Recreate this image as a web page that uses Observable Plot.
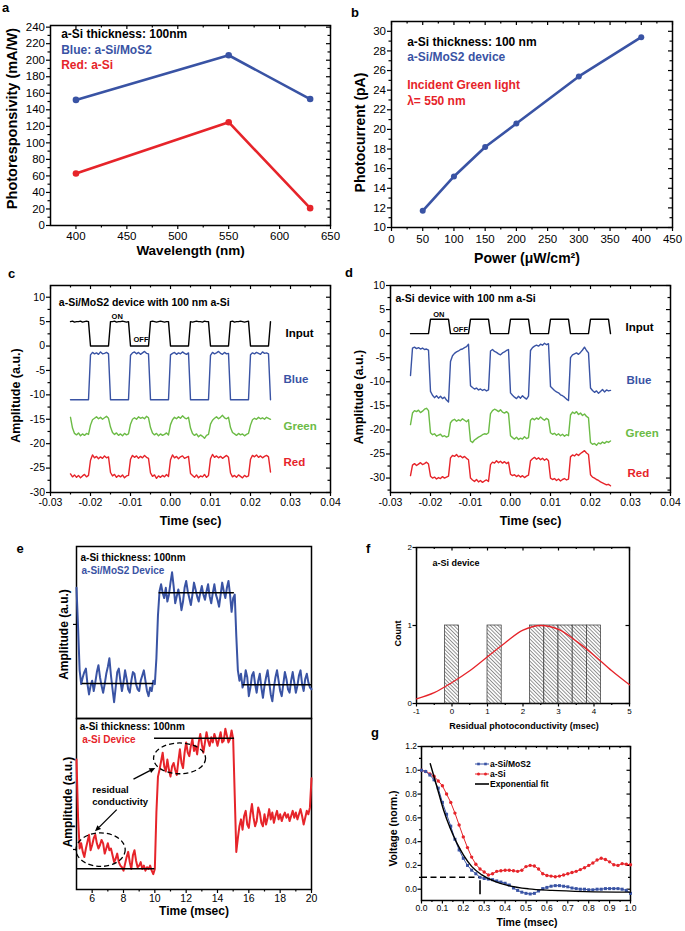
<!DOCTYPE html>
<html><head><meta charset="utf-8">
<script src="https://cdn.jsdelivr.net/npm/d3@7"></script>
<script src="https://cdn.jsdelivr.net/npm/@observablehq/plot@0.6"></script>
<style>
body{margin:0;background:#fff;font-family:"Liberation Sans",Arial,sans-serif;}
#fig{position:relative;width:685px;height:931px;overflow:hidden;background:#fff;}
.leg{position:absolute;font-weight:bold;font-size:8.5px;line-height:10px;white-space:nowrap;}
</style></head><body><div id="fig"></div>
<script>
// ---------------- DATA ----------------
// (a)
const aWavelength = [400, 550, 630];
const aBlueResp = [152, 206, 153];
const aRedResp = [63, 125, 21];
const aXMajor = [400, 450, 500, 550, 600, 650];
const aXMinor = [425, 475, 525, 575, 625];
const aYMajor = [0, 20, 40, 60, 80, 100, 120, 140, 160, 180, 200, 220, 240];
const aYMinor = [10, 30, 50, 70, 90, 110, 130, 150, 170, 190, 210, 230];
// (b)
const bPower = [50, 100, 150, 200, 300, 400];
const bCurrent = [11.7, 15.2, 18.2, 20.6, 25.4, 29.4];
const bXMajor = [0, 50, 100, 150, 200, 250, 300, 350, 400, 450];
const bXMinor = [25, 75, 125, 175, 225, 275, 325, 375, 425];
const bYMajor = [10, 12, 14, 16, 18, 20, 22, 24, 26, 28, 30];
const bYMinor = [11, 13, 15, 17, 19, 21, 23, 25, 27, 29];
// (c),(d) traces sampled every 0.5 ms from -0.025 s
const cdT0 = -0.025, cdStep = 0.0005;
const cInput = [5,5.1,4.9,5,5,5.1,4.9,5,5.1,5, 0,0,0,0,0,0,0,0,0,0,
 5,5,5.1,4.9,5,5,5.1,5,4.9,5, 0,0,0,0,0,0,0,0,0,0,
 5,5.1,5,4.9,5,5.1,5,4.9,5,5, 0,0,0,0,0,0,0,0,0,0,
 5,4.9,5,5.1,5,5,4.9,5.1,5,5, 0,0,0,0,0,0,0,0,0,0,
 5,5.1,4.9,5,5,5.1,5,4.9,5,5.1, 0,0,0,0,0,0,0,0,0,0, 5];
const cBlue = [-11,-11,-11,-11,-11,-11,-11,-11,-11,-11,
 -1.8,-1.3,-1.6,-1.4,-1.7,-1.2,-1.6,-1.5,-1.3,-1.6,
 -11,-11,-11,-11,-11,-11,-11,-11,-11,-11,
 -1.9,-1.4,-1.2,-1.6,-1.3,-1.7,-1.4,-1.1,-1.5,-1.6,
 -11,-11,-11,-11,-11,-11,-11,-11,-11,-11,
 -1.8,-1.5,-1.3,-1.7,-1.4,-1.6,-1.2,-1.5,-1.7,-1.4,
 -11,-11,-11,-11,-11,-11,-11,-11,-11,-11,
 -1.9,-1.3,-1.6,-1.4,-1.1,-1.5,-1.7,-1.3,-1.6,-1.5,
 -11,-11,-11,-11,-11,-11,-11,-11,-11,-11,
 -1.8,-1.4,-1.6,-1.3,-1.5,-1.7,-1.2,-1.5,-1.4,-1.6, -11];
const cGreen = [-14.6,-16.8,-17.9,-18.2,-17.8,-18.4,-18.0,-18.3,-17.9,-18.1,
 -16.2,-15.1,-14.8,-14.5,-14.9,-14.6,-15.0,-14.7,-14.4,-14.8,
 -16.6,-17.7,-18.1,-17.8,-18.3,-18.0,-18.4,-17.9,-18.2,-18.0,
 -16.0,-15.0,-14.7,-15.0,-14.5,-14.8,-14.6,-14.9,-14.4,-14.7,
 -16.7,-17.8,-18.2,-17.9,-18.4,-18.0,-18.3,-18.1,-17.8,-18.2,
 -16.1,-15.1,-14.6,-14.9,-14.5,-14.8,-14.3,-14.7,-14.9,-14.6,
 -16.8,-17.9,-18.3,-18.0,-18.6,-18.2,-18.5,-18.9,-18.3,-18.1,
 -16.0,-15.2,-14.8,-14.5,-14.9,-14.6,-14.2,-14.7,-14.9,-14.6,
 -16.7,-17.7,-18.0,-18.3,-17.9,-18.2,-18.0,-18.4,-18.1,-17.9,
 -16.2,-15.1,-14.8,-15.0,-14.6,-14.9,-14.7,-15.0,-14.6,-14.8, -15.0];
const cRed = [-26.2,-26.8,-26.4,-26.9,-26.5,-27.0,-26.6,-26.3,-26.8,-26.5,
 -23.4,-22.3,-22.9,-22.6,-23.1,-22.7,-23.0,-22.5,-22.9,-22.7,
 -25.9,-26.6,-26.3,-26.9,-26.5,-26.8,-26.4,-27.0,-26.6,-26.5,
 -23.2,-22.4,-22.8,-22.5,-23.0,-22.6,-22.9,-22.4,-22.8,-23.0,
 -26.0,-26.7,-26.4,-27.1,-26.6,-26.9,-26.5,-26.8,-26.3,-26.7,
 -23.3,-22.3,-22.9,-22.6,-23.1,-22.7,-22.5,-23.0,-22.8,-22.6,
 -26.1,-26.5,-26.9,-26.4,-27.0,-26.6,-26.8,-26.3,-26.9,-26.5,
 -23.1,-22.2,-22.8,-22.5,-22.9,-22.6,-23.0,-22.7,-22.4,-22.8,
 -26.0,-26.8,-26.5,-26.9,-26.4,-26.7,-27.0,-26.5,-26.8,-26.6,
 -23.2,-22.4,-22.7,-22.3,-22.8,-22.5,-22.9,-22.6,-22.4,-22.7, -25.8];
const dInput = [0,0,0,0,0,0,0,0,0,0, 3,3,3,3,3,3,3,3,3,3,
 0,0,0,0,0,0,0,0,0,0, 3,3,3,3,3,3,3,3,3,3,
 0,0,0,0,0,0,0,0,0,0, 3,3,3,3,3,3,3,3,3,3,
 0,0,0,0,0,0,0,0,0,0, 3,3,3,3,3,3,3,3,3,3,
 0,0,0,0,0,0,0,0,0,0, 3,3,3,3,3,3,3,3,3,3, 0];
const dBlue = [-8.7,-3.0,-2.8,-3.1,-2.9,-3.2,-3.0,-3.3,-3.2,-3.4,
 -12.0,-12.8,-13.3,-12.9,-13.4,-13.0,-13.5,-13.2,-13.8,-14.2,
 -5.8,-4.6,-4.1,-3.8,-3.6,-3.3,-3.2,-2.9,-2.7,-2.2,
 -10.8,-11.2,-11.5,-11.3,-11.7,-11.5,-11.8,-11.6,-11.9,-11.7,
 -3.6,-3.3,-3.7,-3.9,-4.2,-4.4,-4.0,-3.8,-3.5,-3.3,
 -12.3,-12.8,-13.2,-13.5,-13.0,-13.4,-12.9,-13.3,-13.6,-13.0,
 -3.5,-2.9,-2.6,-2.4,-2.6,-2.2,-2.4,-2.0,-2.3,-2.1,
 -11.0,-11.4,-11.8,-12.1,-12.3,-12.7,-12.9,-13.2,-13.6,-13.9,
 -5.0,-4.4,-4.2,-4.0,-4.3,-3.9,-3.4,-2.8,-3.5,-4.0,
 -11.3,-11.8,-12.2,-11.9,-12.4,-12.0,-11.6,-12.1,-11.7,-11.9, -11.8];
const dGreen = [-18.9,-16.5,-16.0,-16.2,-15.9,-16.4,-16.1,-15.7,-15.5,-16.0,
 -20.6,-21.0,-20.8,-21.3,-21.1,-20.9,-21.4,-21.2,-21.5,-21.3,
 -18.5,-18.0,-17.8,-18.2,-17.9,-18.1,-17.7,-18.0,-18.3,-17.9,
 -22.3,-22.6,-22.1,-21.8,-21.5,-21.3,-21.0,-20.8,-20.9,-20.6,
 -16.6,-16.0,-15.7,-15.9,-16.2,-15.8,-16.3,-16.5,-16.2,-16.6,
 -21.2,-21.6,-21.9,-21.5,-22.0,-21.7,-21.9,-21.4,-21.8,-21.6,
 -18.0,-17.6,-17.9,-17.5,-17.8,-17.3,-17.7,-18.0,-17.6,-17.9,
 -20.6,-20.9,-20.7,-21.1,-20.8,-21.2,-20.9,-21.3,-21.0,-21.2,
 -16.9,-16.3,-16.6,-16.2,-16.8,-16.5,-17.0,-16.7,-17.2,-17.5,
 -22.6,-23.0,-22.8,-23.2,-22.7,-22.9,-22.5,-22.8,-22.4,-22.6, -22.3];
const dRed = [-29.5,-27.3,-27.0,-27.4,-27.1,-26.8,-27.2,-27.0,-26.7,-27.1,
 -29.6,-30.0,-29.8,-30.2,-29.9,-30.1,-29.7,-30.0,-29.8,-29.6,
 -25.8,-25.3,-25.5,-25.1,-25.6,-25.4,-25.8,-25.5,-25.9,-26.2,
 -30.0,-30.4,-30.7,-30.3,-30.8,-30.5,-30.9,-30.6,-30.4,-30.7,
 -27.2,-26.7,-26.9,-26.4,-26.8,-26.5,-26.9,-26.6,-27.0,-26.7,
 -29.2,-29.5,-29.3,-29.7,-29.4,-29.8,-29.5,-29.9,-29.6,-29.4,
 -26.4,-26.0,-25.7,-26.1,-25.8,-26.2,-25.9,-26.3,-26.0,-26.4,
 -30.0,-30.3,-30.1,-30.5,-30.2,-30.6,-30.3,-30.1,-30.4,-30.2,
 -25.6,-25.2,-25.4,-25.0,-25.3,-24.9,-24.6,-24.3,-24.8,-25.1,
 -29.3,-29.8,-30.0,-30.3,-30.5,-30.8,-31.0,-31.2,-31.4,-31.3, -31.6];
const cdXMajor = [-0.03, -0.02, -0.01, 0, 0.01, 0.02, 0.03, 0.04];
const cdXMinor = [-0.025, -0.015, -0.005, 0.005, 0.015, 0.025, 0.035];
const cdYMajor = [-30, -25, -20, -15, -10, -5, 0, 5, 10];
const cYMinor = [-27.5, -22.5, -17.5, -12.5, -7.5, -2.5, 2.5, 7.5];
const dYMinor = [-32.5, -27.5, -22.5, -17.5, -12.5, -7.5, -2.5, 2.5, 7.5];
// (e) traces sampled every 0.1 ms from 5 ms (arbitrary units 0-100)
const eT0 = 5, eStep = 0.1;
const eBlue = [76,53,28,20,24,27,29,20,14,19, 22,16,21,27,31,24,19,15,20,26,
 30,35,25,17,9.5,18,27,29,22,16, 21,28,23,17,15,22,27,26,20,17,
 16,22,25,28,22,16,13,18,16,22, 20,35,60,74,78,73,70,76,68,72,
 79,85,77,67,71,75,70,63,68,76, 80,74,70,66,72,79,75,71,68,73,
 77,72,69,74,78,71,67,73,78,72, 69,65,72,79,74,70,76,80,72,62,
 70,72,48,28,22,26,18,21,28,24, 13,18,25,27,20,15,22,26,18,12,
 19,24,28,21,14,10,18,24,28,22, 16,13,20,27,23,17,15,22,27,21,
 15,19,25,28,20,16,23,26,21,18, 17];
const eRed = [76,42,24,27,22,19,24,28,32,23, 26,30,32,27,24,26,29,27,21,24,
 27,23,24,20,16,18,21,16,14,13, 11,15,19,22,16,12,20,23,17,13,
 14,16,12,14,11,13,12,14,11,9, 12,45,66,70,75,80,72,69,76,70,
 66,72,74,70,67,75,82,74,71,80, 86,80,78,84,88,81,84,79,86,91,
 85,80,86,92,87,84,89,86,91,88, 84,88,92,86,87,94,90,86,88,93,
 88,55,22,30,37,41,35,43,46,38, 36,44,50,42,37,40,48,45,39,37,
 44,38,42,47,41,45,39,43,46,41, 44,40,43,45,42,44,40,43,46,42,
 45,41,44,47,43,38,42,46,44,48, 65];
const eTopRefV = [20.3, 73.1, 19.6], eTopRefT1 = [5.36, 10.27, 15.62], eTopRefT2 = [9.91, 15.08, 20];
const eBotRefV = [12.2, 88.4], eBotRefT1 = [5.05, 9.98], eBotRefT2 = [10.0, 15.09];
const eEllT = [6.57, 11.61], eEllV = [23, 76.4], eEllRT = [1.57, 1.66], eEllRV = [9.8, 9];
const eArrFromT = [7.6, 8.67], eArrFromV = [46.4, 64.3], eArrToT = [6.21, 10.06], eArrToV = [33.7, 70.8];
const eXMajor = [6, 8, 10, 12, 14, 16, 18, 20];
const eXMinor = [7, 9, 11, 13, 15, 17, 19];
// (f)
const fBinLo = [-0.2, 1.0, 2.2, 2.6, 3.0, 3.4, 3.8];
const fBinHi = [0.2, 1.4, 2.6, 3.0, 3.4, 3.8, 4.2];
const fCount = [1, 1, 1, 1, 1, 1, 1];
const fFitX = [-1, -0.5, 0, 0.5, 1, 1.5, 2, 2.5, 3, 3.5, 4, 4.5, 5];
const fFitY = [0.06, 0.14, 0.27, 0.42, 0.60, 0.78, 0.94, 1.0, 0.95, 0.80, 0.62, 0.42, 0.24];
const fXMajor = [-1, 0, 1, 2, 3, 4, 5];
const fXMinor = [-0.5, 0.5, 1.5, 2.5, 3.5, 4.5];
const fYMajor = [0, 1, 2];
// (g) sampled every 0.02 ms
const gT0 = 0, gStep = 0.02;
const gMoS2 = [1.0,0.99,0.96,0.92,0.85,0.73,0.63,0.53,0.42,0.33,0.26,0.20,0.16,0.13,0.10,0.09,0.085,0.08,0.07,0.06,
 0.05,0.035,0.01,-0.01,-0.025,-0.035,-0.04,-0.035,-0.015,0.005,0.015,0.025,0.03,0.03,0.025,0.02,0.01,0.005,0.0,0.0,
 -0.005,-0.005,0.0,0.0,0.005,0.005,0.005,0.005,0.0,-0.01,-0.035];
const gASi = [1.0,0.99,0.97,0.95,0.91,0.87,0.80,0.73,0.64,0.54,0.44,0.35,0.27,0.21,0.17,0.145,0.12,0.13,0.15,0.155,
 0.16,0.16,0.155,0.15,0.16,0.19,0.20,0.195,0.17,0.13,0.115,0.11,0.105,0.11,0.12,0.13,0.14,0.15,0.165,0.18,
 0.20,0.22,0.245,0.26,0.25,0.23,0.205,0.20,0.215,0.21,0.205];
const gFitT = [0.042, 0.074, 0.106, 0.138, 0.17, 0.201, 0.241, 0.289, 0.353, 0.416, 0.512, 0.624, 0.783, 1.0];
const gFitV = [1.055, 0.86, 0.664, 0.51, 0.385, 0.287, 0.19, 0.12, 0.064, 0.03, 0.003, -0.01, -0.02, -0.025];
const gThreshV = 0.1, gThreshT = 0.28;
const gXMajor = [0, 0.1, 0.2, 0.3, 0.4, 0.5, 0.6, 0.7, 0.8, 0.9, 1.0];
const gXMinor = [0.05, 0.15, 0.25, 0.35, 0.45, 0.55, 0.65, 0.75, 0.85, 0.95];
const gYMajor = [0, 0.2, 0.4, 0.6, 0.8, 1.0, 1.2];
const gYMinor = [0.1, 0.3, 0.5, 0.7, 0.9, 1.1];

// ---------------- HELPERS ----------------
const fig = document.getElementById("fig");
const BLUE = "#3953a4", RED = "#e6242a", GREEN = "#6cbb46";
const FONT = '"Liberation Sans", Arial, Helvetica, sans-serif';

function mkPlot({left, top, width, height, mL, mR, mT, mB, x, y, fs, marks}) {
  const svg = Plot.plot({width, height, marginLeft: mL, marginRight: mR, marginTop: mT, marginBottom: mB,
    x: {type: "linear", domain: x, axis: null}, y: {type: "linear", domain: y, axis: null},
    style: {fontFamily: FONT, fontSize: fs + "px", background: "transparent", color: "#000", overflow: "visible"},
    marks});
  Object.assign(svg.style, {position: "absolute", left: left + "px", top: top + "px", maxWidth: "none"});
  fig.appendChild(svg);
  return svg;
}
function axes(o) {
  const {fw, fh, xMaj = [], xMin = [], yMaj = [], yMin = [], xFmt = String, yFmt = String,
    tl = 4, ml = 2.5, inTop = true, inRight = true, xPad = 2, yPad = 1.5, sw = 1.5, tw = 1.2} = o;
  const ms = [];
  if (xMaj.length) ms.push(Plot.axisX(xMaj, {anchor: "bottom", tickSize: tl, tickPadding: xPad, tickFormat: xFmt, label: null, strokeWidth: tw}));
  if (xMin.length) ms.push(Plot.axisX(xMin, {anchor: "bottom", tickSize: ml, tickFormat: () => "", label: null, strokeWidth: tw}));
  if (yMaj.length) ms.push(Plot.axisY(yMaj, {anchor: "left", tickSize: tl, tickPadding: yPad, tickFormat: yFmt, label: null, strokeWidth: tw}));
  if (yMin.length) ms.push(Plot.axisY(yMin, {anchor: "left", tickSize: ml, tickFormat: () => "", label: null, strokeWidth: tw}));
  if (inTop) {
    if (xMaj.length) ms.push(Plot.tickX(xMaj, {x: d => d, insetBottom: fh - tl, strokeWidth: tw}));
    if (xMin.length) ms.push(Plot.tickX(xMin, {x: d => d, insetBottom: fh - ml, strokeWidth: tw}));
  }
  if (inRight) {
    if (yMaj.length) ms.push(Plot.tickY(yMaj, {y: d => d, insetLeft: fw - tl, strokeWidth: tw}));
    if (yMin.length) ms.push(Plot.tickY(yMin, {y: d => d, insetLeft: fw - ml, strokeWidth: tw}));
  }
  ms.push(Plot.frame({strokeWidth: sw}));
  return ms;
}
const T = (str, o) => Plot.text([str], {text: d => d, frameAnchor: "top-left", textAnchor: "start", lineAnchor: "middle", fontWeight: "bold", ...o});
const YT = (str, o) => Plot.text([str], {text: d => d, frameAnchor: "left", textAnchor: "middle", lineAnchor: "middle", rotate: -90, fontWeight: "bold", ...o});
const XT = (str, o) => Plot.text([str], {text: d => d, frameAnchor: "bottom", textAnchor: "middle", lineAnchor: "middle", fontWeight: "bold", ...o});

// ---------------- (a) ----------------
const aRows = aWavelength.map((w, i) => ({w, blue: aBlueResp[i], red: aRedResp[i]}));
mkPlot({left: 0, top: 0, width: 345, height: 262, mL: 50, mR: 15, mT: 25, mB: 37, x: [375, 650], y: [0, 242], fs: 11.5,
  marks: [
    ...axes({fw: 280, fh: 200, xMaj: aXMajor, xMin: aXMinor, yMaj: aYMajor, yMin: aYMinor, xPad: 2}),
    Plot.line(aRows, {x: "w", y: "blue", stroke: BLUE, strokeWidth: 2.6}),
    Plot.dot(aRows, {x: "w", y: "blue", r: 3.3, fill: BLUE}),
    Plot.line(aRows, {x: "w", y: "red", stroke: RED, strokeWidth: 2.6}),
    Plot.dot(aRows, {x: "w", y: "red", r: 3.3, fill: RED}),
    T("a-Si thickness: 100nm", {dx: 10.7, dy: 8.3, fontSize: 12}),
    T("Blue: a-Si/MoS2", {dx: 10.7, dy: 24.3, fontSize: 12, fill: BLUE}),
    T("Red: a-Si", {dx: 10.7, dy: 40, fontSize: 12, fill: RED}),
    YT("Photoresponsivity (mA/W)", {dx: -38.5, dy: -7, fontSize: 14.5}),
    XT("Wavelength (nm)", {dy: 25, fontSize: 13.5})
  ]});

// ---------------- (b) ----------------
const bRows = bPower.map((p, i) => ({p, c: bCurrent[i]}));
mkPlot({left: 345, top: 0, width: 340, height: 262, mL: 46, mR: 13, mT: 21, mB: 35, x: [0, 450], y: [10, 31], fs: 11.5,
  marks: [
    ...axes({fw: 281, fh: 206, xMaj: bXMajor, xMin: bXMinor, yMaj: bYMajor, yMin: bYMinor, xPad: 3}),
    Plot.line(bRows, {x: "p", y: "c", stroke: BLUE, strokeWidth: 2.6}),
    Plot.dot(bRows, {x: "p", y: "c", r: 3, fill: BLUE}),
    T("a-Si thickness: 100 nm", {dx: 15.7, dy: 21, fontSize: 12}),
    T("a-Si/MoS2 device", {dx: 15.7, dy: 36, fontSize: 12, fill: BLUE}),
    T("Incident Green light", {dx: 15.7, dy: 64, fontSize: 12, fill: RED}),
    T("λ= 550 nm", {dx: 15.7, dy: 79.5, fontSize: 12, fill: RED}),
    YT("Photocurrent (pA)", {dx: -31, dy: 8, fontSize: 14}),
    XT("Power (μW/cm²)", {dx: -5, dy: 31, fontSize: 14})
  ]});

// ---------------- (c) & (d) ----------------
const cdTime = cInput.map((_, i) => cdT0 + i * cdStep);
function traceMarks(series) {
  return series.map(([vals, color]) => Plot.line(vals, {x: (d, i) => cdTime[i], y: d => d, stroke: color, strokeWidth: 1.4}));
}
const fmt2 = d => d.toFixed(2);
mkPlot({left: 0, top: 262, width: 345, height: 270, mL: 50, mR: 15, mT: 23, mB: 40, x: [-0.03, 0.04], y: [-30, 12.4], fs: 10.5,
  marks: [
    ...axes({fw: 280, fh: 207, xMaj: cdXMajor, xMin: cdXMinor, yMaj: cdYMajor, yMin: cYMinor, xFmt: fmt2}),
    ...traceMarks([[cInput, "#000"], [cBlue, BLUE], [cGreen, GREEN], [cRed, RED]]),
    T("a-Si/MoS2 device with 100 nm a-Si", {dx: 8.3, dy: 16.7, fontSize: 10.5}),
    T("ON", {dx: 66.7, dy: 30.7, fontSize: 7.5, textAnchor: "middle"}),
    T("OFF", {dx: 90.5, dy: 54.3, fontSize: 7.5, textAnchor: "middle"}),
    T("Input", {dx: 235, dy: 47.7, fontSize: 11.5}),
    T("Blue", {dx: 233, dy: 94.3, fontSize: 11.5, fill: BLUE}),
    T("Green", {dx: 233, dy: 140.7, fontSize: 11.5, fill: GREEN}),
    T("Red", {dx: 233, dy: 177.3, fontSize: 11.5, fill: RED}),
    YT("Amplitude (a.u.)", {dx: -35, dy: 6.5, fontSize: 12.5}),
    XT("Time (sec)", {dy: 28.7, fontSize: 12.5})
  ]});
mkPlot({left: 345, top: 262, width: 340, height: 270, mL: 45, mR: 15, mT: 23, mB: 40, x: [-0.03, 0.04], y: [-33, 10], fs: 10.5,
  marks: [
    ...axes({fw: 280, fh: 207, xMaj: cdXMajor, xMin: cdXMinor, yMaj: cdYMajor, yMin: dYMinor, xFmt: fmt2}),
    ...traceMarks([[dInput, "#000"], [dBlue, BLUE], [dGreen, GREEN], [dRed, RED]]),
    T("a-Si device with 100 nm a-Si", {dx: 5, dy: 13.3, fontSize: 10.5}),
    T("ON", {dx: 48.3, dy: 29.3, fontSize: 7.5, textAnchor: "middle"}),
    T("OFF", {dx: 70, dy: 44, fontSize: 7.5, textAnchor: "middle"}),
    T("Input", {dx: 235, dy: 41.7, fontSize: 11.5}),
    T("Blue", {dx: 236, dy: 95, fontSize: 11.5, fill: BLUE}),
    T("Green", {dx: 235, dy: 147.7, fontSize: 11.5, fill: GREEN}),
    T("Red", {dx: 237, dy: 187.7, fontSize: 11.5, fill: RED}),
    YT("Amplitude (a.u.)", {dx: -31.7, dy: 8, fontSize: 12.5}),
    XT("Time (sec)", {dy: 28.7, fontSize: 12.5})
  ]});

// ---------------- (e) ----------------
const eTime = eBlue.map((_, i) => eT0 + i * eStep);
function eAnnot(index, scales) {
  const g = d3.create("svg:g").attr("fill", "none").attr("stroke", "#000");
  eEllT.forEach((t, i) => {
    const cx = scales.x(t), cy = scales.y(eEllV[i]);
    g.append("ellipse").attr("cx", cx).attr("cy", cy)
      .attr("rx", Math.abs(scales.x(t + eEllRT[i]) - cx)).attr("ry", Math.abs(cy - scales.y(eEllV[i] + eEllRV[i])))
      .attr("stroke-width", 1.3).attr("stroke-dasharray", "5,3");
  });
  eArrFromT.forEach((t, i) => {
    const x1 = scales.x(t), y1 = scales.y(eArrFromV[i]), x2 = scales.x(eArrToT[i]), y2 = scales.y(eArrToV[i]);
    const a = Math.atan2(y2 - y1, x2 - x1), L = 6, W = 2.6;
    const bx = x2 - L * Math.cos(a), by = y2 - L * Math.sin(a);
    g.append("line").attr("x1", x1).attr("y1", y1).attr("x2", bx).attr("y2", by).attr("stroke-width", 1.3);
    g.append("polygon").attr("fill", "#000").attr("stroke", "none")
      .attr("points", `${x2},${y2} ${bx - W * Math.sin(a)},${by + W * Math.cos(a)} ${bx + W * Math.sin(a)},${by - W * Math.cos(a)}`);
  });
  return g.node();
}
mkPlot({left: 0, top: 532, width: 345, height: 186, mL: 76, mR: 34, mT: 14, mB: 0, x: [5, 20], y: [0, 100], fs: 10,
  marks: [
    Plot.axisY([54.7], {anchor: "left", tickSize: 3, tickFormat: () => "", label: null, strokeWidth: 1.2}),
    Plot.frame({strokeWidth: 1.5}),
    Plot.line(eBlue, {x: (d, i) => eTime[i], y: d => d, stroke: BLUE, strokeWidth: 2}),
    Plot.ruleY(eTopRefV, {y: d => d, x1: (d, i) => eTopRefT1[i], x2: (d, i) => eTopRefT2[i], strokeWidth: 1.5}),
    T("a-Si thickness: 100nm", {dx: 4, dy: 11.3, fontSize: 10}),
    T("a-Si/MoS2 Device", {dx: 5, dy: 24, fontSize: 10, fill: BLUE}),
    YT("Amplitude (a.u.)", {dx: -12, dy: 2, fontSize: 12})
  ]});
mkPlot({left: 0, top: 700, width: 345, height: 231, mL: 76, mR: 34, mT: 18, mB: 42, x: [5, 20], y: [0, 100], fs: 10.5,
  marks: [
    Plot.axisX(eXMajor, {anchor: "bottom", tickSize: 4, tickPadding: 1, tickFormat: String, label: null, strokeWidth: 1.2}),
    Plot.axisX(eXMinor, {anchor: "bottom", tickSize: 2.5, tickFormat: () => "", label: null, strokeWidth: 1.2}),
    Plot.axisY([23.4], {anchor: "left", tickSize: 3, tickFormat: () => "", label: null, strokeWidth: 1.2}),
    Plot.frame({strokeWidth: 1.5}),
    Plot.line(eRed, {x: (d, i) => eTime[i], y: d => d, stroke: RED, strokeWidth: 2}),
    Plot.ruleY(eBotRefV, {y: d => d, x1: (d, i) => eBotRefT1[i], x2: (d, i) => eBotRefT2[i], strokeWidth: 1.5}),
    eAnnot,
    T("a-Si thickness: 100nm", {dx: 3.3, dy: 8.4, fontSize: 10}),
    T("a-Si Device", {dx: 5.7, dy: 21.7, fontSize: 10, fill: RED}),
    T("residual", {dx: 15.7, dy: 71, fontSize: 9.5}),
    T("conductivity", {dx: 15.7, dy: 83.4, fontSize: 9.5}),
    YT("Amplitude (a.u.)", {dx: -8.5, dy: -2, fontSize: 12}),
    XT("Time (msec)", {dy: 21.4, fontSize: 12})
  ]});

// ---------------- (f) ----------------
const fRows = fBinLo.map((lo, i) => ({lo, hi: fBinHi[i], n: fCount[i]}));
const fFit = fFitX.map((x, i) => ({x, y: fFitY[i]}));
const svgF = mkPlot({left: 345, top: 532, width: 340, height: 200, mL: 71, mR: 56, mT: 15, mB: 29, x: [-1, 5], y: [0, 2], fs: 8,
  marks: [
    ...axes({fw: 213, fh: 156, xMaj: fXMajor, xMin: fXMinor, yMaj: fYMajor, tl: 3.5, ml: 2, xPad: 1, yPad: 1}),
    Plot.rect(fRows, {x1: "lo", x2: "hi", y1: () => 0, y2: "n", fill: "#fe01fe", stroke: "#333", strokeWidth: 0.7}),
    Plot.line(fFit, {x: "x", y: "y", stroke: RED, strokeWidth: 1.3, curve: "catmull-rom"}),
    T("a-Si device", {dx: 16, dy: 15.4, fontSize: 9}),
    YT("Count", {dx: -18.7, dy: 8, fontSize: 9}),
    XT("Residual photoconductivity (msec)", {dx: 1, dy: 22.7, fontSize: 9})
  ]});
{
  const defs = d3.select(svgF).insert("defs", ":first-child");
  const pat = defs.append("pattern").attr("id", "hatchF").attr("patternUnits", "userSpaceOnUse")
    .attr("width", 2.6).attr("height", 2.6).attr("patternTransform", "rotate(-45)");
  pat.append("rect").attr("width", 2.6).attr("height", 2.6).attr("fill", "#fff");
  pat.append("line").attr("x1", 0.5).attr("y1", 0).attr("x2", 0.5).attr("y2", 2.6).attr("stroke", "#777").attr("stroke-width", 0.8);
  svgF.querySelectorAll('[fill="#fe01fe"]').forEach(e => e.setAttribute("fill", "url(#hatchF)"));
}

// ---------------- (g) ----------------
const gTime = gMoS2.map((_, i) => gT0 + i * gStep);
const gFit = gFitT.map((t, i) => ({t, v: gFitV[i]}));
const fmt1 = d => d.toFixed(1);
mkPlot({left: 345, top: 732, width: 340, height: 199, mL: 76, mR: 55, mT: 14, mB: 31, x: [0, 1], y: [-0.095, 1.2], fs: 8.5,
  marks: [
    ...axes({fw: 209, fh: 154, xMaj: gXMajor, xMin: gXMinor, yMaj: gYMajor, yMin: gYMinor, xFmt: fmt1, yFmt: fmt1, tl: 3.5, ml: 2, xPad: 1, yPad: 1}),
    Plot.ruleY([gThreshV], {y: d => d, x1: 0, x2: gThreshT, strokeWidth: 1.6, strokeDasharray: "6,3.5"}),
    Plot.ruleX([gThreshT], {x: d => d, y1: -0.08, y2: gThreshV, strokeWidth: 1.6, strokeDasharray: "0,4,14,20"}),
    Plot.line(gASi, {x: (d, i) => gTime[i], y: d => d, stroke: RED, strokeWidth: 1}),
    Plot.dot(gASi, {x: (d, i) => gTime[i], y: d => d, fill: RED, r: 1.7}),
    Plot.line(gMoS2, {x: (d, i) => gTime[i], y: d => d, stroke: BLUE, strokeWidth: 1}),
    Plot.dot(gMoS2, {x: (d, i) => gTime[i], y: d => d, fill: BLUE, r: 1.7, symbol: "square"}),
    Plot.line(gFit, {x: "t", y: "v", stroke: "#000", strokeWidth: 1.4, curve: "monotone-x"}),
    YT("Voltage (norm.)", {dx: -27.7, dy: 5, fontSize: 10.5}),
    XT("Time (msec)", {dx: 1, dy: 22.6, fontSize: 10.5})
  ]});
// legend (g)
const gLegend = [["a-Si/MoS2", BLUE, "square"], ["a-Si", RED, "circle"], ["Exponential fit", "#000", null]];
gLegend.forEach(([name, color, sym], i) => {
  const y = 764 + i * 10.2;
  const s = d3.create("svg").attr("width", 16).attr("height", 8)
    .style("position", "absolute").style("left", "474px").style("top", (y - 4) + "px");
  s.append("line").attr("x1", 1).attr("x2", 15).attr("y1", 4).attr("y2", 4).attr("stroke", color).attr("stroke-width", sym ? 1 : 1.6);
  if (sym === "square") [4.5, 11.5].forEach(cx => s.append("rect").attr("x", cx - 1.3).attr("y", 2.7).attr("width", 2.6).attr("height", 2.6).attr("fill", color));
  if (sym === "circle") [4.5, 11.5].forEach(cx => s.append("circle").attr("cx", cx).attr("cy", 4).attr("r", 1.5).attr("fill", color));
  fig.appendChild(s.node());
  const t = document.createElement("div");
  t.className = "leg"; t.textContent = name;
  t.style.left = "490px"; t.style.top = (y - 5) + "px";
  fig.appendChild(t);
});

// ---------------- panel letters ----------------
const panelLetters = ["a", "b", "c", "d", "e", "f", "g"];
const letterX = [2, 351, 8, 345, 16.5, 366, 371];
const letterY = [12, 16.5, 278.3, 276.7, 553.3, 553.3, 737];
const ov = d3.create("svg").attr("width", 685).attr("height", 931)
  .style("position", "absolute").style("left", "0px").style("top", "0px").style("pointer-events", "none");
panelLetters.forEach((l, i) => ov.append("text").attr("x", letterX[i]).attr("y", letterY[i])
  .attr("font-family", FONT).attr("font-weight", "bold").attr("font-size", 13).text(l));
fig.appendChild(ov.node());
</script></body></html>
